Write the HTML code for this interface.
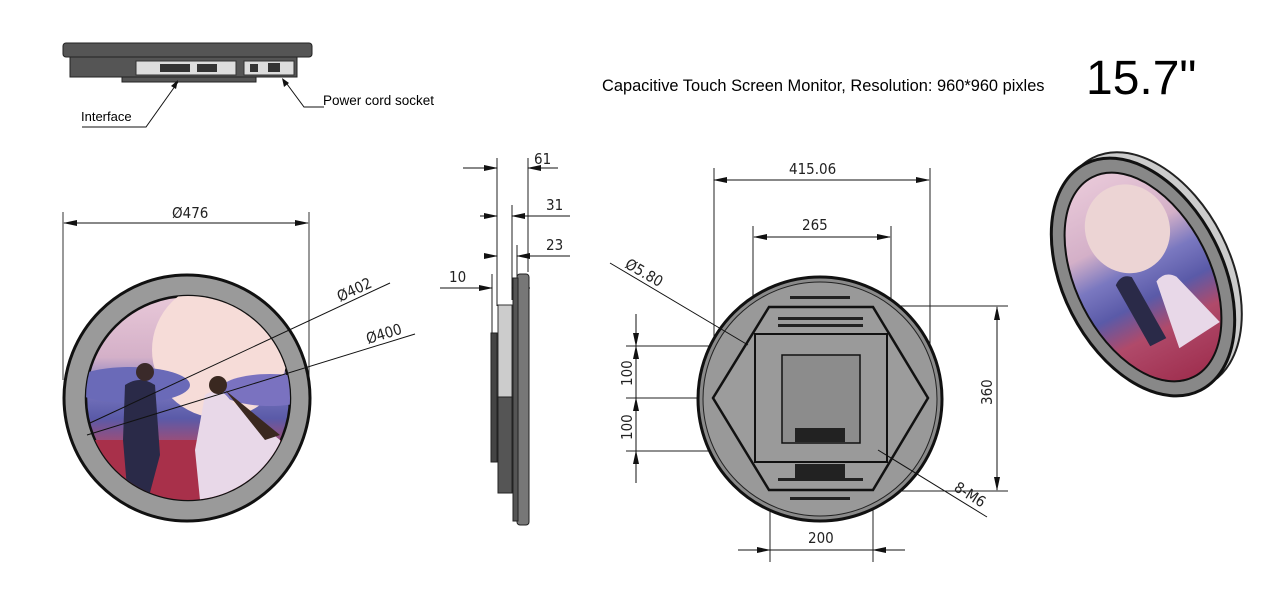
<!DOCTYPE html>
<html><head><meta charset="utf-8"><style>
html,body{margin:0;padding:0;background:#fff;width:1280px;height:604px;overflow:hidden}
svg{display:block}
text{font-family:"Liberation Sans",sans-serif}
.d{font-family:"DejaVu Sans Condensed","Liberation Sans Narrow","Liberation Sans",sans-serif;font-size:15px;fill:#222}
</style></head><body>
<svg width="1280" height="604" viewBox="0 0 1280 604" xmlns="http://www.w3.org/2000/svg">
<defs>
<marker id="a" markerWidth="14" markerHeight="6" refX="13" refY="3" orient="auto-start-reverse" markerUnits="userSpaceOnUse"><path d="M0,0 L14,3 L0,6z" fill="#111"/></marker>
<linearGradient id="sky" x1="0" y1="0" x2="0" y2="1">
<stop offset="0" stop-color="#e8c8d8"/><stop offset="0.3" stop-color="#d4b0c8"/><stop offset="0.45" stop-color="#7a78c0"/><stop offset="0.6" stop-color="#5a5aa8"/><stop offset="0.75" stop-color="#b04a6a"/><stop offset="1" stop-color="#a03050"/>
</linearGradient>
<clipPath id="c1"><circle cx="188" cy="398" r="102"/></clipPath>
</defs>

<!-- top-left device -->
<rect x="63" y="43" width="249" height="14" rx="3" fill="#555" stroke="#222"/>
<rect x="70" y="57" width="227" height="20" fill="#555" stroke="#222"/>
<rect x="136" y="61" width="100" height="14" fill="#ddd" stroke="#333"/>
<rect x="244" y="61" width="50" height="14" fill="#ddd" stroke="#333"/>
<rect x="160" y="64" width="30" height="8" fill="#333"/><rect x="197" y="64" width="20" height="8" fill="#333"/>
<rect x="250" y="64" width="8" height="8" fill="#333"/><rect x="268" y="63" width="12" height="9" fill="#333"/>
<rect x="122" y="77" width="134" height="5" fill="#555" stroke="#222"/>
<polyline points="82,127 146,127 178,82" fill="none" stroke="#111"/>
<path d="M178,80 l-7,6 l5,3z" fill="#111"/>
<polyline points="324,107 304,107 284,80" fill="none" stroke="#111"/>
<path d="M282,78 l2,9 l5,-4z" fill="#111"/>
<text x="81" y="121" font-size="13">Interface</text>
<text x="323" y="105" font-size="13.5">Power cord socket</text>

<text x="602" y="91" font-size="16.4">Capacitive Touch Screen Monitor, Resolution: 960*960 pixles</text>
<text x="1086" y="94" font-size="48">15.7"</text>

<!-- left front view -->
<line x1="63" y1="212" x2="63" y2="380" stroke="#333"/>
<line x1="309" y1="212" x2="309" y2="380" stroke="#333"/>
<line x1="64" y1="223" x2="308" y2="223" stroke="#111" marker-start="url(#a)" marker-end="url(#a)"/>
<text class="d" x="172" y="218">Ø476</text>
<circle cx="187" cy="398" r="123" fill="#9a9a9a" stroke="#111" stroke-width="3"/>
<circle cx="188" cy="398" r="102" fill="url(#sky)" stroke="#111" stroke-width="2.5"/>
<g clip-path="url(#c1)">
<circle cx="220" cy="350" r="68" fill="#f6dcd8"/>
<ellipse cx="130" cy="385" rx="60" ry="18" fill="#6a6ab8"/>
<ellipse cx="270" cy="390" rx="50" ry="16" fill="#7a72c0"/>
<rect x="80" y="440" width="220" height="70" fill="#a8304a"/>
<path d="M125,385 q15,-10 30,0 l5,70 l-12,45 l-20,0 l-5,-60z" fill="#2a2a48"/>
<circle cx="145" cy="372" r="9" fill="#3a2a2a"/>
<path d="M205,395 q15,-10 25,5 l50,40 l10,60 l-90,0 l-5,-50z" fill="#e8d8e8"/>
<path d="M225,390 l55,45 l-15,5z" fill="#3a2820"/>
<circle cx="218" cy="385" r="9" fill="#3a2820"/>
</g>
<line x1="90" y1="423" x2="390" y2="283" stroke="#111"/>
<line x1="87" y1="435" x2="415" y2="334" stroke="#111"/>
<text class="d" transform="translate(340,302) rotate(-25)">Ø402</text>
<text class="d" transform="translate(368,344) rotate(-17)">Ø400</text>

<!-- side view -->
<g stroke="#222" fill="none">
<line x1="497" y1="158" x2="497" y2="306"/><line x1="528" y1="158" x2="528" y2="272"/>
<line x1="512" y1="205" x2="512" y2="300"/><line x1="517" y1="245" x2="517" y2="285"/>
<line x1="492" y1="274" x2="492" y2="333"/>
</g>
<line x1="463" y1="168" x2="497" y2="168" stroke="#111" marker-end="url(#a)"/>
<line x1="558" y1="168" x2="528" y2="168" stroke="#111" marker-end="url(#a)"/>
<line x1="480" y1="216" x2="497" y2="216" stroke="#111" marker-end="url(#a)"/>
<line x1="570" y1="216" x2="512" y2="216" stroke="#111" marker-end="url(#a)"/>
<line x1="484" y1="256" x2="497" y2="256" stroke="#111" marker-end="url(#a)"/>
<line x1="570" y1="256" x2="517" y2="256" stroke="#111" marker-end="url(#a)"/>
<line x1="440" y1="288" x2="492" y2="288" stroke="#111" marker-end="url(#a)"/>
<line x1="512" y1="288" x2="530" y2="288" stroke="#111"/>
<text class="d" x="534" y="164">61</text>
<text class="d" x="546" y="210">31</text>
<text class="d" x="546" y="250">23</text>
<text class="d" x="449" y="282">10</text>
<rect x="517" y="274" width="12" height="251" rx="3" fill="#777" stroke="#222"/>
<rect x="513" y="278" width="5" height="243" fill="#555" stroke="#222"/>
<rect x="498" y="305" width="14" height="92" fill="#ccc" stroke="#333"/>
<rect x="498" y="397" width="14" height="96" fill="#555" stroke="#222"/>
<rect x="491" y="333" width="6" height="129" fill="#444" stroke="#222"/>

<!-- back view -->
<g stroke="#222" fill="none">
<line x1="714" y1="168" x2="714" y2="398"/><line x1="930" y1="168" x2="930" y2="398"/>
<line x1="753" y1="226" x2="753" y2="345"/><line x1="891" y1="226" x2="891" y2="345"/>
<line x1="873" y1="306" x2="1008" y2="306"/><line x1="873" y1="491" x2="1008" y2="491"/>
<line x1="626" y1="346" x2="755" y2="346"/><line x1="626" y1="398" x2="713" y2="398"/><line x1="626" y1="451" x2="755" y2="451"/>
<line x1="770" y1="450" x2="770" y2="562"/><line x1="873" y1="450" x2="873" y2="562"/>
</g>
<circle cx="820" cy="399" r="122" fill="#8a8a8a" stroke="#111" stroke-width="3"/>
<circle cx="820" cy="399" r="117" fill="#999" stroke="#222" stroke-width="1"/>
<polygon points="769,307 873,307 928,398 873,490 769,490 713,398" fill="#9c9c9c" stroke="#111" stroke-width="2.5"/>
<g fill="#222">
<rect x="790" y="296" width="60" height="3"/><rect x="778" y="317" width="85" height="3"/><rect x="778" y="324" width="85" height="3"/>
<rect x="790" y="497" width="60" height="3"/><rect x="778" y="478" width="85" height="3"/>
</g>
<rect x="755" y="334" width="132" height="128" fill="#9a9a9a" stroke="#111" stroke-width="2"/>
<rect x="782" y="355" width="78" height="88" fill="#8c8c8c" stroke="#111" stroke-width="1.5"/>
<rect x="795" y="428" width="50" height="14" fill="#222"/>
<rect x="795" y="464" width="50" height="14" fill="#222"/>
<line x1="714" y1="180" x2="929" y2="180" stroke="#111" marker-start="url(#a)" marker-end="url(#a)"/>
<text class="d" x="789" y="174">415.06</text>
<line x1="754" y1="237" x2="890" y2="237" stroke="#111" marker-start="url(#a)" marker-end="url(#a)"/>
<text class="d" x="802" y="230">265</text>
<line x1="997" y1="307" x2="997" y2="490" stroke="#111" marker-start="url(#a)" marker-end="url(#a)"/>
<text class="d" transform="translate(992,405) rotate(-90)">360</text>
<line x1="636" y1="314" x2="636" y2="346" stroke="#111" marker-end="url(#a)"/>
<line x1="636" y1="346" x2="636" y2="398" stroke="#111" marker-start="url(#a)"/>
<line x1="636" y1="398" x2="636" y2="451" stroke="#111" marker-start="url(#a)"/>
<line x1="636" y1="483" x2="636" y2="451" stroke="#111" marker-end="url(#a)"/>
<text class="d" transform="translate(632,386) rotate(-90)">100</text>
<text class="d" transform="translate(632,440) rotate(-90)">100</text>
<line x1="738" y1="550" x2="770" y2="550" stroke="#111" marker-end="url(#a)"/>
<line x1="905" y1="550" x2="873" y2="550" stroke="#111" marker-end="url(#a)"/>
<line x1="770" y1="550" x2="873" y2="550" stroke="#111"/>
<text class="d" x="808" y="543">200</text>
<line x1="610" y1="263" x2="748" y2="345" stroke="#111"/>
<text class="d" transform="translate(624,267) rotate(30)">Ø5.80</text>
<line x1="878" y1="450" x2="987" y2="517" stroke="#111"/>
<text class="d" transform="translate(953,490) rotate(32)">8-M6</text>

<!-- isometric -->
<g transform="translate(1143,277) rotate(-27)">
<ellipse cx="9" cy="-2" rx="80" ry="127" fill="#ccc" stroke="#222" stroke-width="2"/>
<ellipse cx="0" cy="0" rx="80" ry="127" fill="#888" stroke="#111" stroke-width="3"/>
<ellipse cx="0" cy="0" rx="67" ry="112" fill="url(#sky)" stroke="#111" stroke-width="2"/>
<ellipse cx="8" cy="-50" rx="42" ry="45" fill="#ecd4d4"/>
<path d="M-28,-5 q10,-8 18,0 l3,70 l-18,0z" fill="#2a2a48"/>
<path d="M10,10 q12,-6 20,5 l18,60 l-48,5z" fill="#e8d8e8"/>
</g>
</svg>
</body></html>
